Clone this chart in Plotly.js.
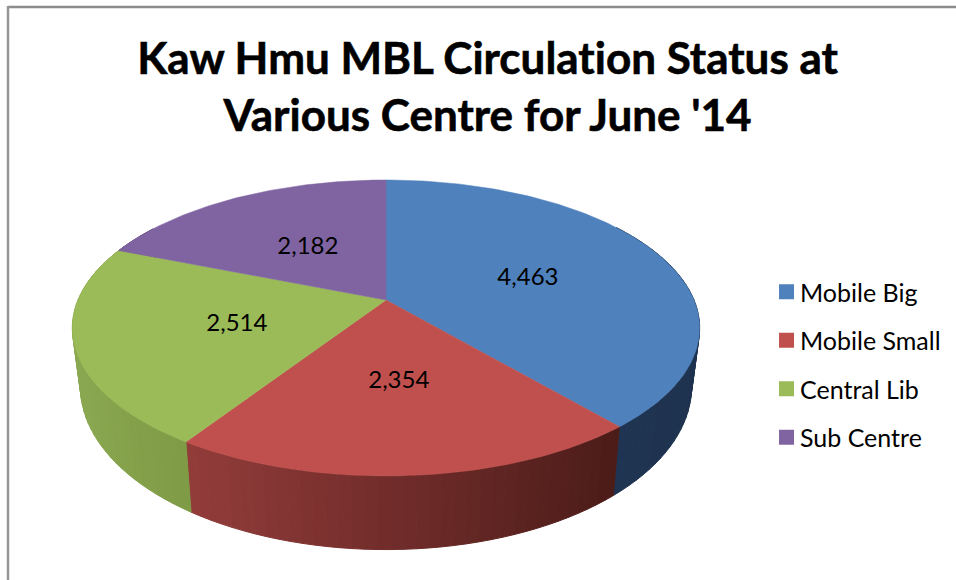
<!DOCTYPE html>
<html><head><meta charset="utf-8">
<script src="https://cdn.plot.ly/plotly-3.0.1.min.js"></script>
<style>html,body{margin:0;padding:0;background:#fff}
text{font-variant-ligatures:none;font-feature-settings:"liga" 0}
.legendtext{transform:translateX(-6.5px)}
.gtitle{stroke:#000;stroke-width:0.6px}</style>
</head><body><div id="chart" style="width:956px;height:580px"></div>
<script>
const categories = ['Mobile Big','Mobile Small','Central Lib','Sub Centre'];
const values = [4463,2354,2514,2182];
const labels = ['4,463','2,354','2,514','2,182'];
const topColors = ['#4f81bd','#c0504d','#9bbb59','#8064a2'];
const sideLeft  = [[32,54,84],[146,60,58],[138,168,80],[90,70,115]];
const sideRight = [[30,50,78],[74,27,24],[126,154,68],[90,70,115]];
const cx = 386, k = 0.189;
const topA = 308, topB = 142.7, topY = 300;
const botA = 300, botB = 157, botY = 356;
const FONT = 'Lato, "Open Sans", sans-serif';

function proj(tDeg, r, a, b, y0){
  const t = tDeg*Math.PI/180, u = r*Math.sin(t), v = -r*Math.cos(t), d = 1-k*v;
  return [cx + a*u/d, y0 + b*v/d];
}
const total = values.reduce((s,v)=>s+v,0);
let acc = 0;
const slices = values.map((v,i)=>{
  const s = acc/total*360; acc += v; return {i, s, e: acc/total*360};
});
const traces = [];
// extruded side strips
slices.forEach(sl=>{
  const step = 2, n = Math.max(1,Math.ceil((sl.e-sl.s)/step));
  for(let j=0;j<n;j++){
    const a = sl.s+(sl.e-sl.s)*j/n, b = sl.s+(sl.e-sl.s)*(j+1)/n;
    if(Math.cos((a+b)/2*Math.PI/180) > 0.55) continue;
    const p1=proj(a,1,topA,topB,topY), p2=proj(b,1,topA,topB,topY),
          p3=proj(b,1,botA,botB,botY), p4=proj(a,1,botA,botB,botY);
    const f = sl.i===0 ? (p3[0]-560)/140 : sl.i===1 ? (p3[0]-190)/425 : (p3[0]-80)/110;
    const q = Math.min(1,Math.max(0,f));
    const c = sideLeft[sl.i].map((x,m)=>Math.round(x+(sideRight[sl.i][m]-x)*q));
    const col = `rgb(${c[0]},${c[1]},${c[2]})`;
    traces.push({type:'scatter',mode:'lines',x:[p1[0],p2[0],p3[0],p4[0],p1[0]],y:[p1[1],p2[1],p3[1],p4[1],p1[1]],
      fill:'toself',fillcolor:col,line:{color:col,width:1},showlegend:false,hoverinfo:'skip'});
  }
});
// top surface wedges
slices.forEach(sl=>{
  const xs=[cx], ys=[topY], n=Math.ceil(sl.e-sl.s);
  for(let j=0;j<=n;j++){
    const p=proj(sl.s+(sl.e-sl.s)*j/n,1,topA,topB,topY); xs.push(p[0]); ys.push(p[1]);
  }
  xs.push(cx); ys.push(topY);
  traces.push({type:'scatter',mode:'lines',x:xs,y:ys,fill:'toself',fillcolor:topColors[sl.i],
    line:{color:topColors[sl.i],width:0.5},showlegend:false,hoverinfo:'skip'});
});
// data labels
const pts = slices.map(sl=>proj((sl.s+sl.e)/2,0.5,topA,topB,topY));
traces.push({type:'scatter',mode:'text',x:pts.map(p=>p[0]+2),y:pts.map(p=>p[1]+3),text:labels,
  textposition:'middle center',textfont:{family:FONT,size:24,color:'#000'},showlegend:false,hoverinfo:'skip'});
// legend entries
categories.forEach((c,i)=>traces.push({type:'scatter',mode:'markers',x:[null],y:[null],name:c,legendgroup:c,
  marker:{symbol:'square',size:15,color:topColors[i]},hoverinfo:'skip'}));

const layout = {
  width:956,height:580,autosize:false,margin:{l:0,r:0,t:0,b:0},
  paper_bgcolor:'#fff',plot_bgcolor:'#fff',hovermode:false,dragmode:false,
  title:{text:"Kaw Hmu MBL Circulation Status at<br>Various Centre for June '14",
    font:{family:FONT,size:44,weight:700,color:'#000'},x:0.51,xanchor:'center',xref:'paper',y:0.873,yanchor:'top',yref:'paper'},
  xaxis:{range:[0,956],visible:false,fixedrange:true},
  yaxis:{range:[580,0],visible:false,fixedrange:true},
  legend:{x:0.8018,xanchor:'left',y:0.5362,yanchor:'top',yref:'paper',font:{family:FONT,size:25,color:'#000'},
    tracegroupgap:13,itemwidth:30,bgcolor:'rgba(0,0,0,0)',traceorder:'grouped',itemclick:false,itemdoubleclick:false},
  shapes:[
    {type:'line',xref:'x',yref:'y',x0:8,x1:956,y0:7,y1:7,line:{color:'#8c8c8c',width:2.5}},
    {type:'line',xref:'x',yref:'y',x0:8,x1:8,y0:6,y1:580,line:{color:'#969696',width:2.5}}
  ]
};
Plotly.newPlot('chart',traces,layout,{displayModeBar:false,staticPlot:true});
</script></body></html>
